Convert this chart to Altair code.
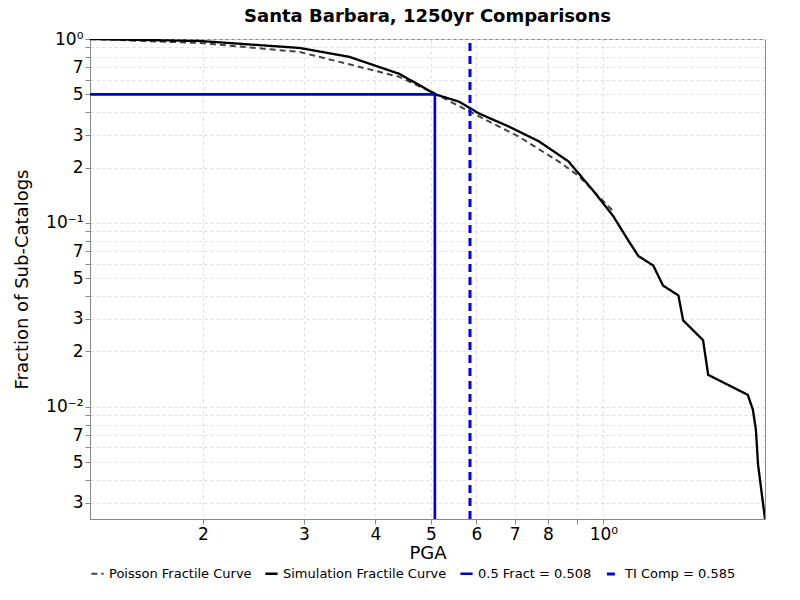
import pandas as pd
import altair as alt

sim_x = [0.127, 0.198, 0.295, 0.360, 0.440, 0.511, 0.560, 0.607, 0.684, 0.771, 0.869, 0.961,
         1.04, 1.106, 1.151, 1.222, 1.271, 1.352, 1.378, 1.493, 1.524, 1.787, 1.824, 1.846, 1.862, 1.915]
sim_y = [1.0, 0.975, 0.894, 0.80, 0.647, 0.498, 0.456, 0.393, 0.334, 0.278, 0.216, 0.149,
         0.109, 0.080, 0.066, 0.0586, 0.0456, 0.0403, 0.0295, 0.0230, 0.0149, 0.0116, 0.00963,
         0.00751, 0.00486, 0.00245]

poi_x = [0.127, 0.198, 0.295, 0.440, 0.511, 0.607, 0.711, 0.835, 0.906, 0.979, 1.04]
poi_y = [1.0, 0.951, 0.85, 0.623, 0.50, 0.379, 0.295, 0.216, 0.180, 0.140, 0.116]

fract_x = [0.127, 0.508, 0.508]
fract_y = [0.5, 0.5, 0.00245]
ti_x = [0.585, 0.585]
ti_y = [0.00245, 1.0]

names = ["Poisson Fractile Curve", "Simulation Fractile Curve", "0.5 Fract = 0.508", "TI Comp = 0.585"]

rows = []
for name, xs, ys in zip(names, [poi_x, sim_x, fract_x, ti_x], [poi_y, sim_y, fract_y, ti_y]):
    for i, (a, b) in enumerate(zip(xs, ys)):
        rows.append({"series": name, "x": a, "y": b, "i": i})
df = pd.DataFrame(rows)

x_ticks = [0.2, 0.3, 0.4, 0.5, 0.6, 0.7, 0.8, 0.9, 1.0]
y_ticks = [m * 10 ** e for e in (-3, -2, -1) for m in range(1, 10)] + [1.0]
y_ticks = [round(v, 6) for v in y_ticks if v >= 0.0025]

x_label = ("datum.value == 1 ? '10⁰' : datum.value > 0.85 && datum.value < 0.95 ? '' : "
           "format(datum.value * 10, '.0f')")
y_label = ("abs(datum.value - 1) < 1e-9 ? '10⁰' : abs(datum.value - 0.1) < 1e-9 ? '10⁻¹' : "
           "abs(datum.value - 0.01) < 1e-9 ? '10⁻²' : "
           "indexof([2,3,5,7], round(datum.value / pow(10, floor(log(datum.value) / LN10 + 1e-9)))) >= 0 ? "
           "format(round(datum.value / pow(10, floor(log(datum.value) / LN10 + 1e-9))), '.0f') : ''")

chart = alt.Chart(df).mark_line(clip=True).encode(
    x=alt.X("x:Q", title="PGA",
            scale=alt.Scale(type="log", domain=[0.127, 1.915], nice=False),
            axis=alt.Axis(values=x_ticks, labelExpr=x_label, labelOverlap=False, titlePadding=2)),
    y=alt.Y("y:Q", title="Fraction of Sub-Catalogs",
            scale=alt.Scale(type="log", domain=[0.00245, 1.0], nice=False),
            axis=alt.Axis(values=y_ticks, labelExpr=y_label, labelOverlap=False, titlePadding=14)),
    order="i:Q",
    color=alt.Color("series:N", title=None,
                    scale=alt.Scale(domain=names, range=["#444444", "#000000", "#0000cc", "#0000ee"])),
    strokeDash=alt.StrokeDash("series:N", title=None,
                              scale=alt.Scale(domain=names, range=[[6, 4], [1, 0], [1, 0], [8, 5]])),
    strokeWidth=alt.StrokeWidth("series:N", title=None,
                                scale=alt.Scale(domain=names, range=[2, 3, 2, 2])),
).properties(
    width=675,
    height=480,
    padding={"left": 5, "top": 0, "right": 5, "bottom": 0},
    title=alt.Title("Santa Barbara, 1250yr Comparisons", fontSize=18, fontWeight="bold",
                    font="DejaVu Sans", offset=4),
).configure_axis(
    grid=True,
    gridDash=[3, 3],
    gridColor="#dddddd",
    labelFont="DejaVu Sans",
    titleFont="DejaVu Sans",
    labelFontSize=17,
    titleFontSize=18,
    titleFontWeight="normal",
    labelColor="black",
    titleColor="black",
    tickColor="#888888",
    domainColor="#888888",
).configure_legend(
    orient="bottom",
    direction="horizontal",
    offset=4,
    labelFont="DejaVu Sans",
    labelFontSize=13,
    symbolType="stroke",
    symbolSize=150,
    columnPadding=8,
    labelLimit=300,
).configure_view(
    stroke="#888888"
)

chart.save("out.html", embed_options={"renderer": "svg", "actions": False})
